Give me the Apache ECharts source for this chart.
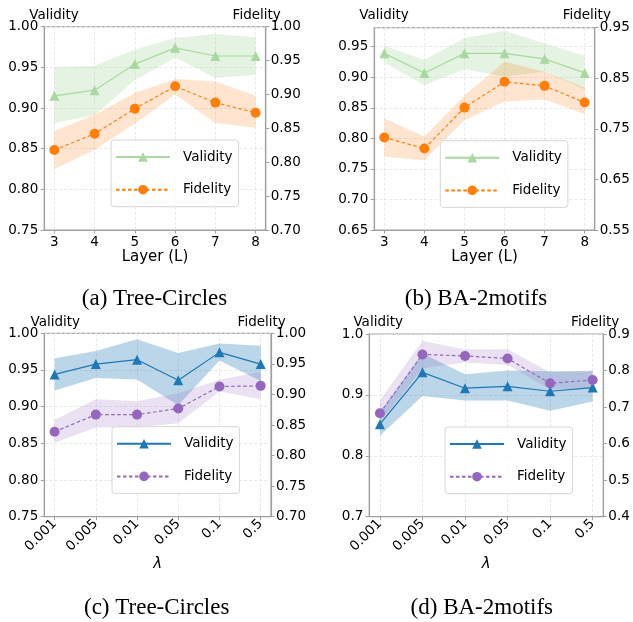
<!DOCTYPE html>
<html>
<head>
<meta charset="utf-8">
<script src="https://cdn.jsdelivr.net/npm/echarts@6/dist/echarts.min.js"></script>
<style>
html,body{margin:0;padding:0;background:#fff;}
#c{width:633px;height:622px;}
</style>
</head>
<body>
<div id="c"></div>
<script>
// ---- data ----
const layers = [3, 4, 5, 6, 7, 8];
const lambdaLabels = ['0.001', '0.005', '0.01', '0.05', '0.1', '0.5'];

// (a) Tree-Circles vs layer
const aValidity     = [0.915, 0.922, 0.954, 0.974, 0.964, 0.964];
const aValidityLow  = [0.882, 0.891, 0.934, 0.962, 0.937, 0.941];
const aValidityHigh = [0.950, 0.952, 0.972, 0.986, 0.991, 0.987];
const aFidelity     = [0.818, 0.842, 0.879, 0.912, 0.888, 0.873];
const aFidelityLow  = [0.790, 0.818, 0.857, 0.900, 0.858, 0.851];
const aFidelityHigh = [0.846, 0.870, 0.902, 0.923, 0.919, 0.898];

// (b) BA-2motifs vs layer
const bValidity     = [0.939, 0.907, 0.939, 0.939, 0.930, 0.907];
const bValidityLow  = [0.924, 0.887, 0.913, 0.901, 0.909, 0.880];
const bValidityHigh = [0.952, 0.928, 0.964, 0.976, 0.955, 0.935];
const bFidelity     = [0.733, 0.711, 0.792, 0.843, 0.835, 0.802];
const bFidelityLow  = [0.695, 0.688, 0.767, 0.804, 0.808, 0.779];
const bFidelityHigh = [0.771, 0.735, 0.816, 0.883, 0.863, 0.832];

// (c) Tree-Circles vs lambda
const cValidity     = [0.944, 0.958, 0.964, 0.936, 0.974, 0.958];
const cValidityLow  = [0.922, 0.939, 0.937, 0.902, 0.963, 0.935];
const cValidityHigh = [0.966, 0.976, 0.992, 0.973, 0.986, 0.983];
const cFidelity     = [0.839, 0.867, 0.867, 0.877, 0.913, 0.914];
const cFidelityLow  = [0.821, 0.846, 0.846, 0.853, 0.905, 0.892];
const cFidelityHigh = [0.858, 0.892, 0.889, 0.902, 0.924, 0.937];

// (d) BA-2motifs vs lambda
const dValidity     = [0.852, 0.937, 0.911, 0.914, 0.906, 0.912];
const dValidityLow  = [0.833, 0.898, 0.891, 0.891, 0.874, 0.889];
const dValidityHigh = [0.872, 0.968, 0.934, 0.940, 0.939, 0.939];
const dFidelity     = [0.683, 0.844, 0.840, 0.833, 0.765, 0.774];
const dFidelityLow  = [0.660, 0.806, 0.822, 0.815, 0.749, 0.751];
const dFidelityHigh = [0.719, 0.881, 0.858, 0.858, 0.795, 0.800];

const captions = ['(a) Tree-Circles', '(b) BA-2motifs', '(c) Tree-Circles', '(d) BA-2motifs'];

// ---- layout / style ----
const SANS = 'DejaVu Sans';
const lambdaIdx = lambdaLabels.map((_, i) => i);

const panels = [
  { key: 'a', grid: {left: 44.3, top: 26.7, width: 221.4, height: 203.3},
    xs: layers, xMin: 2.75, xMax: 8.25, xName: 'Layer (L)', lam: false,
    yL: {min: 0.75, max: 1.00, interval: 0.05, dec: 2}, yR: {min: 0.70, max: 1.00, interval: 0.05, dec: 2},
    v: [aValidity, aValidityLow, aValidityHigh], f: [aFidelity, aFidelityLow, aFidelityHigh],
    vc: '#a9d8a0', vBand: 0.3, fc: '#ff7f0e', fBand: 0.2,
    legend: {left: 111, top: 140},
    vt: [54, 15.7], ft: [256.7, 15.7], cap: [154.5, 299] },
  { key: 'b', grid: {left: 374.3, top: 27.7, width: 220.4, height: 202.3},
    xs: layers, xMin: 2.75, xMax: 8.25, xName: 'Layer (L)', lam: false,
    yL: {min: 0.65, max: 0.981, interval: 0.05, dec: 2, hideMax: true}, yR: {min: 0.55, max: 0.95, interval: 0.1, dec: 2},
    v: [bValidity, bValidityLow, bValidityHigh], f: [bFidelity, bFidelityLow, bFidelityHigh],
    vc: '#a9d8a0', vBand: 0.3, fc: '#ff7f0e', fBand: 0.2,
    legend: {left: 440.3, top: 140.7},
    vt: [384, 15.7], ft: [586.8, 15.7], cap: [476, 299] },
  { key: 'c', grid: {left: 44.3, top: 333.3, width: 226.7, height: 183.4},
    xs: lambdaIdx, xMin: -0.25, xMax: 5.25, xName: 'λ', lam: true,
    yL: {min: 0.75, max: 1.00, interval: 0.05, dec: 2}, yR: {min: 0.70, max: 1.00, interval: 0.05, dec: 2},
    v: [cValidity, cValidityLow, cValidityHigh], f: [cFidelity, cFidelityLow, cFidelityHigh],
    vc: '#1f77b4', vBand: 0.3, fc: '#9467bd', fBand: 0.2,
    legend: {left: 112, top: 426.7},
    vt: [55.3, 322.7], ft: [261.7, 322.7], cap: [156.7, 607.7] },
  { key: 'd', grid: {left: 369.3, top: 334, width: 234, height: 182.7},
    xs: lambdaIdx, xMin: -0.25, xMax: 5.25, xName: 'λ', lam: true,
    yL: {min: 0.7, max: 1.0, interval: 0.1, dec: 1}, yR: {min: 0.4, max: 0.9, interval: 0.1, dec: 1},
    v: [dValidity, dValidityLow, dValidityHigh], f: [dFidelity, dFidelityLow, dFidelityHigh],
    vc: '#1f77b4', vBand: 0.3, fc: '#9467bd', fBand: 0.2,
    legend: {left: 445, top: 427},
    vt: [378.2, 322.7], ft: [595.2, 322.7], cap: [481.8, 607.5] }
];

const AXC = '#a0a0a0';
const grids = [], xAxes = [], yAxes = [], series = [], legends = [], graphics = [];

function yAxisCfg(p, cfg, pos) {
  return {
    type: 'value', gridIndex: p, position: pos,
    min: cfg.min, max: cfg.max, interval: cfg.interval,
    axisLine: {show: true, onZero: false, lineStyle: {color: AXC, width: 1.2}},
    axisTick: {show: true, length: 3.5, lineStyle: {color: AXC}},
    axisLabel: {
      fontFamily: SANS, fontSize: 13.5, color: '#000', margin: pos === 'left' ? 6 : 5,
      showMaxLabel: cfg.hideMax ? false : true,
      formatter: v => v.toFixed(cfg.dec)
    },
    splitLine: {show: pos === 'left', lineStyle: {type: [3, 2], color: '#e2e2e2', width: 0.8}}
  };
}

function bandSeries(p, yIdx, xs, low, high, color, opacity) {
  return {
    type: 'custom', xAxisIndex: p, yAxisIndex: yIdx, silent: true, clip: true,
    data: xs.map((x, i) => [x, low[i], high[i]]),
    renderItem: function (params, api) {
      if (params.dataIndex !== 0) return null;
      const top = xs.map((x, i) => api.coord([x, high[i]]));
      const bot = xs.map((x, i) => api.coord([x, low[i]])).reverse();
      return {
        type: 'polygon',
        shape: {points: top.concat(bot)},
        style: {fill: color, opacity: opacity, stroke: null}
      };
    }
  };
}

panels.forEach((P, p) => {
  grids.push(Object.assign({show: true, borderColor: AXC, borderWidth: 1.2, backgroundColor: 'transparent'}, P.grid));
  xAxes.push({
    type: 'value', gridIndex: p, min: P.xMin, max: P.xMax,
    name: P.xName, nameLocation: 'middle', nameGap: P.lam ? 40 : 18,
    nameTextStyle: {fontFamily: SANS, fontSize: 15, color: '#000', fontStyle: P.lam ? 'italic' : 'normal'},
    axisLine: {show: true, onZero: false, lineStyle: {color: AXC, width: 1.2}},
    axisTick: {show: true, length: 3.5, lineStyle: {color: AXC}, customValues: P.xs},
    axisLabel: {
      customValues: P.xs, fontFamily: SANS, fontSize: 13.5, color: '#000', margin: 5,
      rotate: P.lam ? 45 : 0,
      formatter: v => P.lam ? lambdaLabels[Math.round(v)] : String(v)
    },
    splitLine: {show: true, lineStyle: {type: [3, 2], color: '#e2e2e2', width: 0.8}}
  });
  yAxes.push(yAxisCfg(p, P.yL, 'left'));
  yAxes.push(yAxisCfg(p, P.yR, 'right'));

  const metrics = [
    {name: 'Validity_' + P.key, arr: P.v, color: P.vc, band: P.vBand, y: 2 * p, sym: 'triangle', dash: 'solid'},
    {name: 'Fidelity_' + P.key, arr: P.f, color: P.fc, band: P.fBand, y: 2 * p + 1, sym: 'circle', dash: [3.5, 2.5]}
  ];
  metrics.forEach(m => {
    const [val, low, high] = m.arr;
    series.push(bandSeries(p, m.y, P.xs, low, high, m.color, m.band));
    series.push({
      name: m.name, type: 'line', xAxisIndex: p, yAxisIndex: m.y,
      symbol: m.sym, symbolSize: 10,
      itemStyle: {color: m.color, borderWidth: 0},
      lineStyle: {color: m.color, width: 1.2, type: m.dash},
      data: P.xs.map((x, i) => [x, val[i]])
    });
  });

  legends.push({
    left: P.legend.left, top: P.legend.top, orient: 'vertical',
    itemWidth: 54, itemHeight: 12, itemGap: 18.7,
    padding: [10, 6, 10, 4],
    borderColor: '#d6d6d6', borderWidth: 1, borderRadius: 3,
    backgroundColor: 'rgba(255,255,255,0.8)',
    selectedMode: false,
    textStyle: {fontFamily: SANS, fontSize: 13.5, color: '#000', padding: [0, 0, 0, 8]},
    formatter: n => n.split('_')[0],
    data: ['Validity_' + P.key, 'Fidelity_' + P.key]
  });

  graphics.push({type: 'text', x: P.vt[0], y: P.vt[1], style: {text: 'Validity', font: '13.5px "DejaVu Sans"', fill: '#000', align: 'center', verticalAlign: 'middle'}});
  graphics.push({type: 'text', x: P.ft[0], y: P.ft[1], style: {text: 'Fidelity', font: '13.5px "DejaVu Sans"', fill: '#000', align: 'center', verticalAlign: 'middle'}});
  graphics.push({type: 'text', x: P.cap[0], y: P.cap[1], style: {text: captions[p], font: '23px "Liberation Serif"', fill: '#000', align: 'center', verticalAlign: 'middle'}});
});

const chart = echarts.init(document.getElementById('c'), null, {renderer: 'canvas'});
chart.setOption({
  animation: false,
  backgroundColor: '#fff',
  grid: grids, xAxis: xAxes, yAxis: yAxes, series: series, legend: legends, graphic: graphics
});
</script>
</body>
</html>
